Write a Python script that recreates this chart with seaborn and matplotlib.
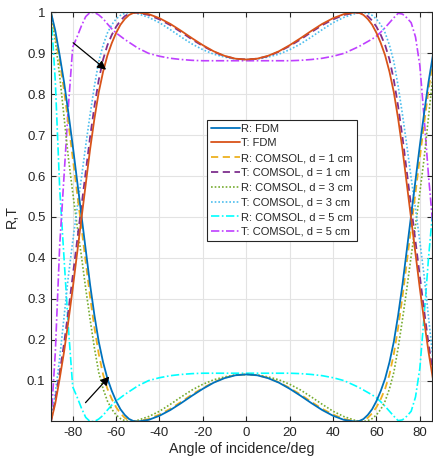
import numpy as np
import pandas as pd
import matplotlib
matplotlib.use("Agg")
import matplotlib.pyplot as plt
import seaborn as sns

# ---------------- data ----------------
angle_left = [-90, -88, -86, -84, -82, -80, -78, -76, -74, -72, -70,
              -68, -66, -64, -62, -60, -58, -56, -54, -52, -50]
angle_mid = [-45, -40, -35, -30, -25, -20, -15, -10, -5, 0,
             5, 10, 15, 20, 25, 30, 35, 40, 45]
angle_right = [50, 52, 54, 56, 58, 60, 62, 64, 66, 68, 70,
               72, 74, 76, 78, 80, 82, 84, 86, 88, 90]
angles = angle_left + angle_mid + angle_right

R_fdm = [1.0, 0.955, 0.895, 0.83, 0.755, 0.675, 0.59, 0.505, 0.42, 0.335, 0.26,
         0.195, 0.145, 0.105, 0.075, 0.05, 0.03, 0.016, 0.006, 0.001, 0.0,
         0.004, 0.014, 0.028, 0.045, 0.063, 0.08, 0.095, 0.106, 0.113, 0.115,
         0.113, 0.106, 0.095, 0.08, 0.063, 0.045, 0.028, 0.014, 0.004,
         0.0, 0.001, 0.006, 0.016, 0.03, 0.05, 0.075, 0.105, 0.145, 0.195,
         0.26, 0.335, 0.42, 0.505, 0.59, 0.675, 0.755, 0.83, 0.895, 0.955, 1.0]
T_fdm = [0.0, 0.045, 0.105, 0.17, 0.245, 0.325, 0.41, 0.495, 0.58, 0.665, 0.74,
         0.805, 0.855, 0.895, 0.925, 0.95, 0.97, 0.984, 0.994, 0.999, 1.0,
         0.996, 0.986, 0.972, 0.955, 0.937, 0.92, 0.905, 0.894, 0.887, 0.885,
         0.887, 0.894, 0.905, 0.92, 0.937, 0.955, 0.972, 0.986, 0.996,
         1.0, 0.999, 0.994, 0.984, 0.97, 0.95, 0.925, 0.895, 0.855, 0.805,
         0.74, 0.665, 0.58, 0.495, 0.41, 0.325, 0.245, 0.17, 0.105, 0.045, 0.0]
R_d1 = [1.0, 0.945, 0.88, 0.81, 0.73, 0.645, 0.56, 0.475, 0.39, 0.305, 0.23,
        0.165, 0.115, 0.08, 0.055, 0.035, 0.02, 0.009, 0.003, 0.0, 0.001,
        0.006, 0.017, 0.031, 0.048, 0.066, 0.082, 0.096, 0.107, 0.113, 0.115,
        0.113, 0.107, 0.096, 0.082, 0.066, 0.048, 0.031, 0.017, 0.006,
        0.001, 0.0, 0.003, 0.009, 0.02, 0.035, 0.055, 0.08, 0.115, 0.165,
        0.23, 0.305, 0.39, 0.475, 0.56, 0.645, 0.73, 0.81, 0.88, 0.945, 1.0]
T_d1 = [0.0, 0.055, 0.12, 0.19, 0.27, 0.355, 0.44, 0.525, 0.61, 0.695, 0.77,
        0.835, 0.885, 0.92, 0.945, 0.965, 0.98, 0.991, 0.997, 1.0, 0.999,
        0.994, 0.983, 0.969, 0.952, 0.934, 0.918, 0.904, 0.893, 0.887, 0.885,
        0.887, 0.893, 0.904, 0.918, 0.934, 0.952, 0.969, 0.983, 0.994,
        0.999, 1.0, 0.997, 0.991, 0.98, 0.965, 0.945, 0.92, 0.885, 0.835,
        0.77, 0.695, 0.61, 0.525, 0.44, 0.355, 0.27, 0.19, 0.12, 0.055, 0.0]
R_d3 = [1.0, 0.93, 0.845, 0.745, 0.645, 0.56, 0.48, 0.405, 0.325, 0.25, 0.18,
        0.12, 0.08, 0.05, 0.03, 0.016, 0.007, 0.002, 0.0, 0.001, 0.003,
        0.012, 0.025, 0.042, 0.06, 0.077, 0.091, 0.102, 0.109, 0.114, 0.115,
        0.114, 0.109, 0.102, 0.091, 0.077, 0.06, 0.042, 0.025, 0.012,
        0.003, 0.001, 0.0, 0.002, 0.007, 0.016, 0.03, 0.05, 0.08, 0.12,
        0.18, 0.25, 0.325, 0.405, 0.48, 0.56, 0.645, 0.745, 0.845, 0.93, 1.0]
T_d3 = [0.0, 0.07, 0.155, 0.255, 0.355, 0.44, 0.52, 0.595, 0.675, 0.75, 0.82,
        0.88, 0.92, 0.95, 0.97, 0.984, 0.993, 0.998, 1.0, 0.999, 0.997,
        0.988, 0.975, 0.958, 0.94, 0.923, 0.909, 0.898, 0.891, 0.886, 0.885,
        0.886, 0.891, 0.898, 0.909, 0.923, 0.94, 0.958, 0.975, 0.988,
        0.997, 0.999, 1.0, 0.998, 0.993, 0.984, 0.97, 0.95, 0.92, 0.88,
        0.82, 0.75, 0.675, 0.595, 0.52, 0.44, 0.355, 0.255, 0.155, 0.07, 0.0]
R_d5 = [1.0, 0.83, 0.57, 0.4, 0.23, 0.085, 0.06, 0.033, 0.01, 0.0, 0.0,
        0.006, 0.015, 0.028, 0.04, 0.05, 0.058, 0.066, 0.073, 0.08, 0.087,
        0.1, 0.107, 0.112, 0.115, 0.117, 0.118, 0.118, 0.118, 0.118, 0.118,
        0.118, 0.118, 0.118, 0.118, 0.117, 0.115, 0.112, 0.107, 0.1,
        0.088, 0.083, 0.077, 0.071, 0.065, 0.058, 0.048, 0.037, 0.025, 0.013,
        0.002, 0.004, 0.013, 0.025, 0.06, 0.13, 0.26, 0.4, 0.52, 0.75, 1.0]
T_d5 = [0.0, 0.17, 0.43, 0.6, 0.77, 0.915, 0.94, 0.967, 0.99, 1.0, 1.0,
        0.994, 0.985, 0.972, 0.96, 0.95, 0.942, 0.934, 0.927, 0.92, 0.913,
        0.9, 0.893, 0.888, 0.885, 0.883, 0.882, 0.882, 0.882, 0.882, 0.882,
        0.882, 0.882, 0.882, 0.882, 0.883, 0.885, 0.888, 0.893, 0.9,
        0.912, 0.917, 0.923, 0.929, 0.935, 0.942, 0.952, 0.963, 0.975, 0.987,
        0.998, 0.996, 0.987, 0.975, 0.94, 0.87, 0.74, 0.6, 0.48, 0.25, 0.0]

labels = ["R: FDM", "T: FDM",
          "R: COMSOL, d = 1 cm", "T: COMSOL, d = 1 cm",
          "R: COMSOL, d = 3 cm", "T: COMSOL, d = 3 cm",
          "R: COMSOL, d = 5 cm", "T: COMSOL, d = 5 cm"]
series = [R_fdm, T_fdm, R_d1, T_d1, R_d3, T_d3, R_d5, T_d5]

x_ticks = [-80, -60, -40, -20, 0, 20, 40, 60, 80]
y_ticks = [0.1, 0.2, 0.3, 0.4, 0.5, 0.6, 0.7, 0.8, 0.9, 1.0]
y_ticklabels = ["0.1", "0.2", "0.3", "0.4", "0.5", "0.6", "0.7", "0.8", "0.9", "1"]

# ---------------- styling ----------------
colors = ["#0072BD", "#D95319", "#EDB120", "#7E2F8E",
          "#77AC30", "#4DBEEE", "#00FFFF", "#BF40FF"]
styles = ["-", "-", (0, (4, 2.5)), (0, (4, 2.5)),
          (0, (1, 1.2)), (0, (1, 1.2)), (0, (5, 1.5, 1, 1.5)), (0, (5, 1.5, 1, 1.5))]
widths = [1.3, 1.3, 1.3, 1.3, 1.2, 1.2, 1.2, 1.2]

sns.set_theme(style="white")
plt.rcParams["font.family"] = ["Liberation Sans", "DejaVu Sans"]
plt.rcParams["axes.unicode_minus"] = False

fig = plt.figure(figsize=(4.33, 4.62), dpi=100)
ax = fig.add_axes([0.1178, 0.0877, 0.8799, 0.8853])

ink = "#262626"
order = [6, 7, 4, 5, 2, 3, 0, 1]
for i in order:
    df = pd.DataFrame({"angle": angles, "value": series[i]})
    sns.lineplot(data=df, x="angle", y="value", ax=ax, color=colors[i],
                 linestyle=styles[i], linewidth=widths[i], label=labels[i],
                 errorbar=None, sort=False)

ax.set_xlim(-90, 85.6)
ax.set_ylim(0, 1)
ax.set_xticks(x_ticks)
ax.set_xticklabels([str(t) for t in x_ticks])
ax.set_yticks(y_ticks)
ax.set_yticklabels(y_ticklabels)
ax.grid(True, color="#e3e3e3", linewidth=0.8)
ax.set_axisbelow(True)
for s in ax.spines.values():
    s.set_color(ink)
    s.set_linewidth(0.8)
ax.tick_params(axis="both", direction="in", length=3.5, width=0.8, color=ink,
               labelcolor=ink, labelsize=9.5, top=True, right=True,
               bottom=True, left=True, pad=4)
ax.set_xlabel("Angle of incidence/deg", fontsize=10.3, color=ink, labelpad=2)
ax.set_ylabel("R,T", fontsize=10.3, color=ink, labelpad=6)

# legend in original order
h, l = ax.get_legend_handles_labels()
lookup = dict(zip(l, h))
leg = ax.legend([lookup[k] for k in labels], labels, loc="upper left",
                bbox_to_anchor=(0.409, 0.738), borderaxespad=0, fontsize=8,
                frameon=True, fancybox=False, framealpha=1, edgecolor=ink,
                labelspacing=0.43, handlelength=2.6, handletextpad=0.15,
                borderpad=0.35)
leg.get_frame().set_linewidth(0.8)
for t in leg.get_texts():
    t.set_color(ink)

# arrows
ax.annotate("", xy=(-64.6, 0.86), xytext=(-79.8, 0.926),
            arrowprops=dict(arrowstyle="-|>", color="black", lw=0.9,
                            mutation_scale=13, shrinkA=0, shrinkB=0))
ax.annotate("", xy=(-63.1, 0.11), xytext=(-74.1, 0.046),
            arrowprops=dict(arrowstyle="-|>", color="black", lw=0.9,
                            mutation_scale=13, shrinkA=0, shrinkB=0))

fig.savefig("out.png", dpi=100)
